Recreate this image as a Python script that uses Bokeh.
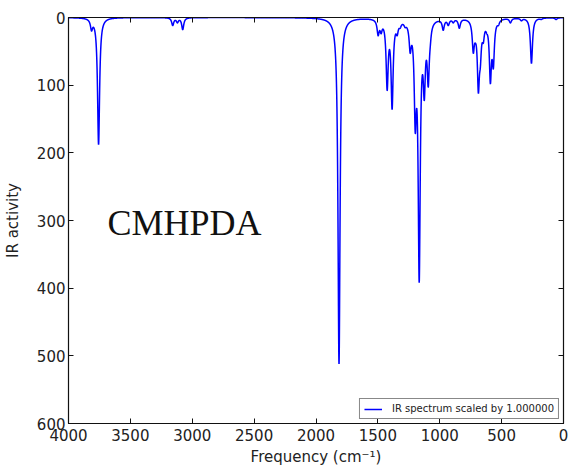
import numpy as np
from bokeh.plotting import figure
from bokeh.models import Range1d, FixedTicker, LinearAxis, Label, Legend, LegendItem
from bokeh.embed import file_html
from bokeh.resources import INLINE

# Peak positions (cm^-1) and the IR activity read at each peak in the reference
peak_freqs = [3814, 3757, 3158, 3120, 3077,
              1814,
              1498, 1474, 1425, 1385, 1344, 1320, 1280, 1239, 1198, 1166, 1125, 1093, 1077,
              972, 931, 891, 842, 729, 712, 688, 672, 648, 620, 591, 567, 526, 429, 340, 259, 180, 60]
peak_ints = [20, 188, 12, 8, 18,
             512,
             27, 24, 108, 136, 27, 16, 15, 53, 171, 392, 123, 103, 44,
             19, 12, 8, 16, 53, 38, 112, 74, 38, 24, 98, 76, 12, 8, 5, 68, 3, 3]
fwhm = 20.0  # line broadening (cm^-1)

x_ticks = [0, 500, 1000, 1500, 2000, 2500, 3000, 3500, 4000]
y_ticks = [0, 100, 200, 300, 400, 500, 600]

# Lorentzian-broadened spectrum whose maxima match the read peak heights
pf = np.array(peak_freqs, dtype=float)
pi = np.array(peak_ints, dtype=float)
def lor(d):
    return 1.0 / (1.0 + (2.0 * d / fwhm) ** 2)
M = lor(pf[:, None] - pf[None, :])
amps = np.clip(np.linalg.solve(M, pi), 0, None)

freq = np.arange(0.0, 4000.5, 0.5)
spec = (amps[None, :] * lor(freq[:, None] - pf[None, :])).sum(axis=1)

p = figure(width=570, height=468, output_backend="svg", toolbar_location=None,
           x_range=Range1d(4000, 0), y_range=Range1d(600, 0),
           min_border_left=68, min_border_right=7, min_border_top=17, min_border_bottom=45)

r = p.line(freq, spec, line_color="#0000ff", line_width=1.5)

p.xgrid.visible = False
p.ygrid.visible = False
p.outline_line_color = "#111111"
p.outline_line_width = 1.2
p.background_fill_color = "white"
p.border_fill_color = "white"

for ax in (p.xaxis[0], p.yaxis[0]):
    ax.major_label_text_font = "DejaVu Sans"
    ax.major_label_text_font_size = "15px"
    ax.major_label_text_color = "#222222"
    ax.axis_label_text_font = "DejaVu Sans"
    ax.axis_label_text_font_size = "15px"
    ax.axis_label_text_font_style = "normal"
    ax.axis_label_text_color = "#222222"
    ax.major_tick_in = 5
    ax.major_tick_out = 0
    ax.minor_tick_line_color = None
    ax.axis_line_color = "#111111"
    ax.major_tick_line_color = "#111111"

p.xaxis[0].ticker = FixedTicker(ticks=x_ticks)
p.yaxis[0].ticker = FixedTicker(ticks=y_ticks)
p.xaxis[0].axis_label = "Frequency (cm⁻¹)"
p.yaxis[0].axis_label = "IR activity"
p.xaxis[0].major_label_standoff = 5
p.xaxis[0].axis_label_standoff = 4
p.yaxis[0].major_label_standoff = 3
p.yaxis[0].axis_label_standoff = 12

top = LinearAxis(ticker=FixedTicker(ticks=x_ticks), major_label_text_font_size="1px",
                 major_label_text_color=None,
                 major_tick_in=5, major_tick_out=0, minor_tick_line_color=None,
                 major_label_standoff=0, axis_line_color="#111111",
                 major_tick_line_color="#111111")
right = LinearAxis(ticker=FixedTicker(ticks=y_ticks), major_label_text_font_size="1px",
                   major_label_text_color=None,
                   major_tick_in=5, major_tick_out=0, minor_tick_line_color=None,
                   major_label_standoff=0, axis_line_color="#111111",
                   major_tick_line_color="#111111")
p.add_layout(top, "above")
p.add_layout(right, "right")

p.add_layout(Label(x=3685, y=304, text="CMHPDA", text_font="Liberation Serif",
                   text_font_size="36px", text_color="#111111",
                   text_baseline="alphabetic", text_align="left"))

legend = Legend(items=[LegendItem(label="IR spectrum scaled by 1.000000", renderers=[r])],
                location="bottom_right", margin=4, padding=4, spacing=0,
                glyph_width=18, glyph_height=10, label_height=10, label_standoff=10,
                label_text_font="DejaVu Sans", label_text_font_size="10px",
                label_text_color="#222222",
                border_line_color="#111111", border_line_width=1,
                background_fill_color="white")
p.add_layout(legend, "center")

open("out.html", "w").write(file_html(p, INLINE))
